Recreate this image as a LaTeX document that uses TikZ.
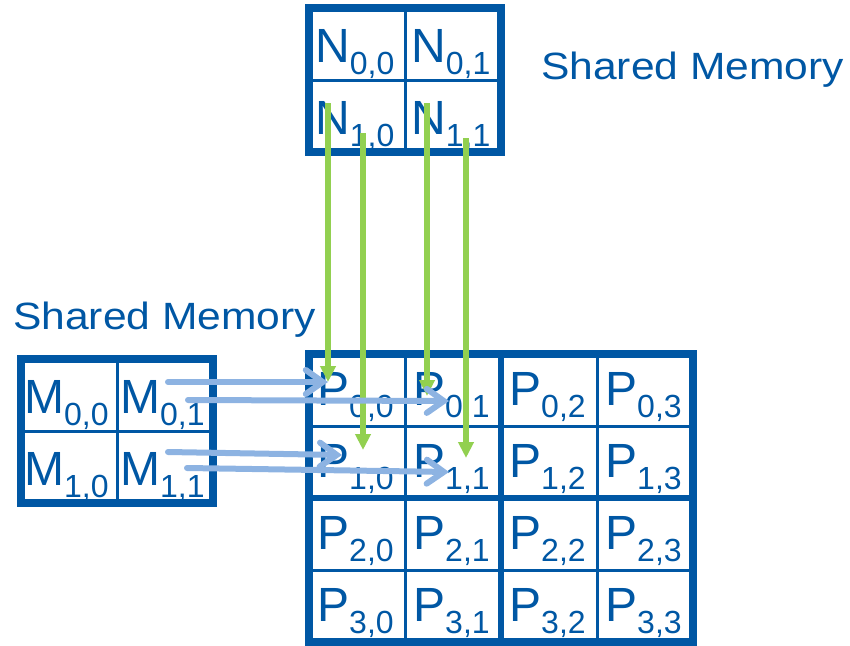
\documentclass[tikz,border=0pt]{standalone}
\usepackage{fontspec}
\setmainfont{Liberation Sans}
\usetikzlibrary{arrows.meta}

\definecolor{dblue}{RGB}{0,87,164}
\definecolor{lgreen}{RGB}{146,208,80}
\definecolor{lblue}{RGB}{141,179,226}

\newcommand{\ent}[2]{{\fontsize{48}{48}\selectfont #1}\raisebox{-12pt}{\fontsize{32}{32}\selectfont #2}}
\newcommand{\shmem}{\scalebox{1.12}[1]{\fontsize{38}{38}\selectfont Shared Memory}}

\tikzset{
  lbl/.style={anchor=base west, inner sep=0pt, text=dblue},
  thingrid/.style={dblue, line width=3pt},
  thickgrid/.style={dblue, line width=6pt},
  border/.style={dblue, line width=8pt},
  garrow/.style={lgreen, line width=5.5pt, -{Triangle[length=16pt,width=15pt]}},
  barrow/.style={lblue, line width=6pt, line cap=round, -{Straight Barb[length=17pt,width=24pt,line cap=round]}}
}

\begin{document}
\begin{tikzpicture}[x=1pt,y=-1pt]
\useasboundingbox (0,0) rectangle (850,645);

%matrice N
\begin{scope}
\draw[thingrid] (405,8) -- (405,152) (309,80) -- (501,80);
\draw[border] (309,8) rectangle (501,152);

\node[lbl] (n00) at (315,62) {\ent{N}{0,0}};
\node[lbl] (n01) at (411,62) {\ent{N}{0,1}};
\node[lbl] (n10) at (315,134) {\ent{N}{1,0}};
\node[lbl] (n11) at (411,134) {\ent{N}{1,1}};

\node[lbl] (shn) at (541,79) {\shmem};
\end{scope}

%matrice M
\begin{scope}
\draw[thingrid] (117,359) -- (117,503) (21,431) -- (213,431);
\draw[border] (21,359) rectangle (213,503);

\node[lbl] (m00) at (24,413) {\ent{M}{0,0}};
\node[lbl] (m01) at (120,413) {\ent{M}{0,1}};
\node[lbl] (m10) at (24,485) {\ent{M}{1,0}};
\node[lbl] (m11) at (120,485) {\ent{M}{1,1}};

\node[lbl] (shm) at (13,329) {\shmem};
\end{scope}

%matrice P
\begin{scope}
\draw[thingrid] (405,354) -- (405,642) (597,354) -- (597,642);
\draw[thingrid] (309,426) -- (693,426) (309,570) -- (693,570);
\draw[thickgrid] (501,354) -- (501,642) (309,498) -- (693,498);
\draw[border] (309,354) rectangle (693,642);

\node[lbl] (p00) at (317,405.5) {\ent{P}{0,0}};
\node[lbl] (p01) at (413,405.5) {\ent{P}{0,1}};
\node[lbl] (p02) at (509,405.5) {\ent{P}{0,2}};
\node[lbl] (p03) at (605,405.5) {\ent{P}{0,3}};
\node[lbl] (p10) at (317,477.5) {\ent{P}{1,0}};
\node[lbl] (p11) at (413,477.5) {\ent{P}{1,1}};
\node[lbl] (p12) at (509,477.5) {\ent{P}{1,2}};
\node[lbl] (p13) at (605,477.5) {\ent{P}{1,3}};
\node[lbl] (p20) at (317,549.5) {\ent{P}{2,0}};
\node[lbl] (p21) at (413,549.5) {\ent{P}{2,1}};
\node[lbl] (p22) at (509,549.5) {\ent{P}{2,2}};
\node[lbl] (p23) at (605,549.5) {\ent{P}{2,3}};
\node[lbl] (p30) at (317,621.5) {\ent{P}{3,0}};
\node[lbl] (p31) at (413,621.5) {\ent{P}{3,1}};
\node[lbl] (p32) at (509,621.5) {\ent{P}{3,2}};
\node[lbl] (p33) at (605,621.5) {\ent{P}{3,3}};
\end{scope}

%frecce verdi (N -> P)
\coordinate (n10a) at (328,103);
\coordinate (n10b) at (363,133);
\coordinate (n11a) at (427,103);
\coordinate (n11b) at (466,138);
\coordinate (p00g) at (328,382);
\coordinate (p10g) at (363,450);
\coordinate (p01g) at (427,396);
\coordinate (p11g) at (466,458);

\draw[garrow] (n10a) -- (p00g);
\draw[garrow] (n10b) -- (p10g);
\draw[garrow] (n11a) -- (p01g);
\draw[garrow] (n11b) -- (p11g);

%frecce azzurre (M -> P)
\coordinate (m01a) at (168,382);
\coordinate (m01b) at (188,400);
\coordinate (m11a) at (168,452);
\coordinate (m11b) at (187,468);
\coordinate (p00m) at (328,382);
\coordinate (p01m) at (449,401);
\coordinate (p10m) at (342,455);
\coordinate (p11m) at (449,472);

\draw[barrow] (m01a) -- (p00m);
\draw[barrow] (m01b) -- (p01m);
\draw[barrow] (m11a) -- (p10m);
\draw[barrow] (m11b) -- (p11m);

\end{tikzpicture}
\end{document}
